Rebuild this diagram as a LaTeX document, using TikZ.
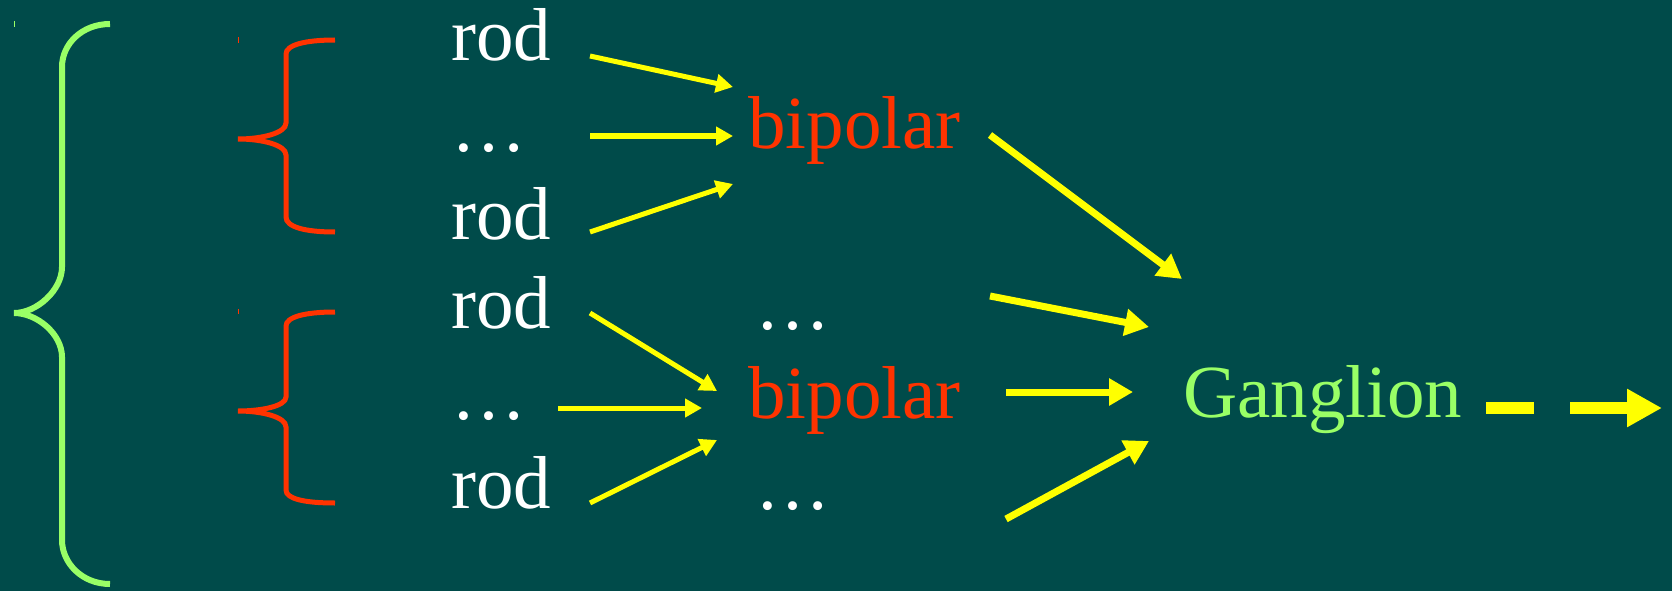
\documentclass[tikz,border=0pt]{standalone}
\usepackage{fontspec}
\setmainfont{Liberation Serif}
\usetikzlibrary{arrows.meta}
\definecolor{bg}{HTML}{004B4A}
\definecolor{bred}{HTML}{FF3300}
\definecolor{ggreen}{HTML}{99FF66}
\definecolor{ayellow}{HTML}{FFFF00}
\tikzset{
  txt/.style={anchor=base west, inner sep=0pt, font=\fontsize{75}{80}\selectfont},
  rodtxt/.style={txt, text=white},
  biptxt/.style={txt, text=bred},
  gangtxt/.style={txt, text=ggreen},
  thinarrow/.style={draw=ayellow, fill=ayellow, line width=5pt, -{Triangle[length=17pt,width=18pt]}},
  thickarrow/.style={draw=ayellow, fill=ayellow, line width=7pt, -{Triangle[length=24pt,width=26pt]}},
  outarrow/.style={draw=ayellow, line width=12pt, dash pattern=on 48pt off 36pt on 57pt off 20pt, -{Triangle[length=35pt,width=36pt]}},
  greenbrace/.style={draw=ggreen, line width=6pt},
  redbrace/.style={draw=bred, line width=5pt},
  tick/.style={line width=1pt}
}
\begin{document}
\begin{tikzpicture}[x=1pt,y=-1pt]
\useasboundingbox (0,0) rectangle (1672,591);
\fill[bg] (0,0) rectangle (1672,591);

% texts
\node[rodtxt] (rod1) at (451,61) {rod};
\node[rodtxt] (dots1) at (451,151) {…};
\node[rodtxt] (rod2) at (451,239) {rod};
\node[rodtxt] (rod3) at (451,328) {rod};
\node[rodtxt] (dots2) at (451,419) {…};
\node[rodtxt] (rod4) at (451,508) {rod};
\node[biptxt] (bip1) at (748,149) {bipolar};
\node[biptxt] (bip2) at (748,418) {bipolar};
\node[rodtxt] (dots3) at (755,329) {…};
\node[rodtxt] (dots4) at (755,509) {…};
\node[gangtxt] (gang) at (1183,417) {Ganglion};

% arrow end points
\coordinate (a1s) at (590,56);   \coordinate (a1e) at (733,87);
\coordinate (a2s) at (590,136);  \coordinate (a2e) at (733,136);
\coordinate (a3s) at (590,232);  \coordinate (a3e) at (733,184);
\coordinate (a4s) at (590,313);  \coordinate (a4e) at (717,391);
\coordinate (a5s) at (558,408);  \coordinate (a5e) at (702,408);
\coordinate (a6s) at (590,503);  \coordinate (a6e) at (717,440);
\coordinate (b1s) at (990,135);  \coordinate (b1e) at (1182,279);
\coordinate (b2s) at (990,296);  \coordinate (b2e) at (1149,327);
\coordinate (b3s) at (1006,392); \coordinate (b3e) at (1133,392);
\coordinate (b4s) at (1006,519); \coordinate (b4e) at (1149,441);
\coordinate (outs) at (1486,408); \coordinate (oute) at (1662,408);

\draw[thinarrow] (a1s) -- (a1e);
\draw[thinarrow] (a2s) -- (a2e);
\draw[thinarrow] (a3s) -- (a3e);
\draw[thinarrow] (a4s) -- (a4e);
\draw[thinarrow] (a5s) -- (a5e);
\draw[thinarrow] (a6s) -- (a6e);
\draw[thickarrow] (b1s) -- (b1e);
\draw[thickarrow] (b2s) -- (b2e);
\draw[thickarrow] (b3s) -- (b3e);
\draw[thickarrow] (b4s) -- (b4e);
\draw[outarrow] (outs) -- (oute);

% green brace
\draw[greenbrace] (110,24) .. controls (82,24) and (62,44) .. (62,67)
  -- (62,267) .. controls (62,290) and (37,313) .. (14,313)
  .. controls (37,313) and (62,334) .. (62,357)
  -- (62,540) .. controls (62,563) and (82,584) .. (110,584);
% red braces
\draw[redbrace] (335,40) .. controls (305,40) and (286,45) .. (286,54)
  -- (286,123) .. controls (286,133) and (262,139) .. (238,139)
  .. controls (262,139) and (286,145) .. (286,155)
  -- (286,217) .. controls (286,227) and (305,232) .. (335,232);
\draw[redbrace] (335,312) .. controls (305,312) and (286,317) .. (286,326)
  -- (286,397) .. controls (286,406) and (262,411) .. (238,411)
  .. controls (262,411) and (286,417) .. (286,427)
  -- (286,490) .. controls (286,499) and (305,503) .. (335,503);
% small ticks
\draw[tick, ggreen] (14,21) -- (14,27);
\draw[tick, bred] (238,37) -- (238,43);
\draw[tick, bred] (238,309) -- (238,314);
\end{tikzpicture}
\end{document}
